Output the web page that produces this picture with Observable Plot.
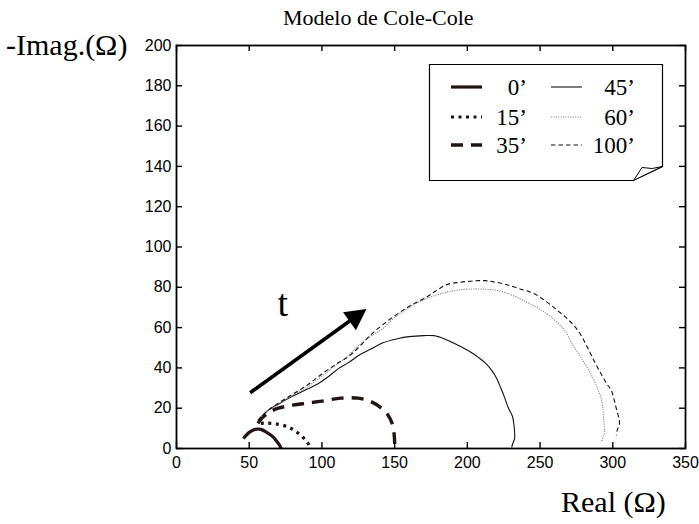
<!DOCTYPE html>
<html>
<head>
<meta charset="utf-8">
<script src="https://cdn.jsdelivr.net/npm/d3@7"></script>
<script src="https://cdn.jsdelivr.net/npm/@observablehq/plot@0.6"></script>
<style>
  html, body { margin: 0; padding: 0; background: #fff; }
  #wrap { position: relative; width: 699px; height: 524px; overflow: hidden; }
  .lbl { position: absolute; font-family: "Liberation Serif", "Times New Roman", serif; color: #000; white-space: nowrap; line-height: 1; }
</style>
</head>
<body>
<div id="wrap"></div>
<script>
// ---- data ----
const xTicks = [0, 50, 100, 150, 200, 250, 300, 350];
const yTicks = [0, 20, 40, 60, 80, 100, 120, 140, 160, 180, 200];

const s0 = [[46,5],[50,8],[54,9.5],[58,9.5],[62,8],[66,6],[69,3.5],[71,1.5],[72,0]];
const s15 = [[58,12.5],[62,12.6],[70,12],[77,10.6],[82,8.5],[87,5.5],[90,3],[91.5,1],[92,0]];
const s35 = [[56,12.5],[58,14.5],[61,16.5],[65,18.5],[70,20],[80,21.5],[90,22.5],[100,23.5],[113,25],[125,25],[133,23.5],[140,20.5],[145,17],[148,13],[149.5,8],[150,3],[150,0]];
const s45 = [[56,14],[60,17],[64,19.5],[70,22],[80,26],[90,29.5],[97,32],[105,36],[112,40],[118,42.5],[126,46.5],[134,49.5],[142,52.5],[152,54.5],[160,55.5],[170,56],[177,56],[184,54.5],[190,52.5],[197,50],[203,47.5],[208,45],[213,42],[217,38.5],[220,35],[223,30],[225.5,25.5],[228,20.5],[231,16],[232,12],[232.5,8],[232.5,5],[231,2],[230.5,0.5]];
const s60 = [[56,14],[60,17],[64,19.5],[70,22],[80,26.5],[90,30.5],[100,36],[110,41.5],[118,46],[125,51],[133,55.5],[141,59],[150,65],[158,69],[166,72.5],[176,75.5],[186,77.6],[195,78.8],[205,79.2],[213,79],[221,78.4],[231,76],[241,72.6],[250,69],[258,65],[267,58.6],[272,52],[278,45.3],[283,39.5],[287,34],[290,29],[292,25],[293,21],[293.5,17],[294,12],[294.3,8],[293,5],[292,3]];
const s100 = [[56,14],[60,17],[64,19.5],[70,22.5],[80,27],[90,31.5],[100,37],[110,42],[118,45.5],[125,50],[133,56],[141,61],[152,66.8],[161,71],[170,74.3],[178,78],[186,81.4],[195,82.5],[205,83.2],[212,83.3],[218,82.7],[225,81.7],[235,79.5],[246,76.8],[255,72.5],[262,68.5],[270,63.5],[276,58.6],[282,51],[287,43.7],[292,37],[296,32],[299,28.8],[302,21],[304.6,12.3],[303,9],[302.4,6.5]];

const seriesNames = ["0'", "15'", "35'", "45'", "60'", "100'"];
const seriesLabels = ["0\u2019", "15\u2019", "35\u2019", "45\u2019", "60\u2019", "100\u2019"];
const arrowData = [{x1: 51, y1: 27.4, x2: 131, y2: 69}];
const tLabel = [{x: 73, y: 66, text: "t"}];

// ---- layout ----
const W = 699, H = 524, mL = 176, mR = 14, mT = 45, mB = 76;
const innerW = W - mL - mR, innerH = H - mT - mB, tickLen = 6;

// ---- styles ----
const styles = {
  "0'":   {stroke: "#221414", strokeWidth: 3.2, strokeDasharray: null},
  "15'":  {stroke: "#221414", strokeWidth: 3.2, strokeDasharray: "3,4.5"},
  "35'":  {stroke: "#221414", strokeWidth: 3.4, strokeDasharray: "12,8"},
  "45'":  {stroke: "#111", strokeWidth: 1.1, strokeDasharray: null},
  "60'":  {stroke: "#8a8a8a", strokeWidth: 1.1, strokeDasharray: "1.2,1.2"},
  "100'": {stroke: "#111", strokeWidth: 1.1, strokeDasharray: "4.5,3"}
};
const seriesData = [s0, s15, s35, s45, s60, s100];
const rows = [];
seriesData.forEach((s, i) => s.forEach(([x, y]) => rows.push({series: seriesNames[i], x, y})));

function arrowMark(index, scales) {
  const g = d3.create("svg:g");
  arrowData.forEach(a => {
    const x1 = scales.x(a.x1), y1 = scales.y(a.y1), x2 = scales.x(a.x2), y2 = scales.y(a.y2);
    const ang = Math.atan2(y2 - y1, x2 - x1);
    const L = 21, Wd = 11;
    const bx = x2 - L * Math.cos(ang), by = y2 - L * Math.sin(ang);
    g.append("line").attr("x1", x1).attr("y1", y1).attr("x2", bx + 2 * Math.cos(ang)).attr("y2", by + 2 * Math.sin(ang))
      .attr("stroke", "#000").attr("stroke-width", 3.6);
    const px = -Math.sin(ang), py = Math.cos(ang);
    g.append("path").attr("d", `M${x2},${y2}L${bx + Wd * px},${by + Wd * py}L${bx - Wd * px},${by - Wd * py}Z`).attr("fill", "#000");
  });
  return g.node();
}

const tickStyle = {stroke: "#000", strokeWidth: 1.4};
const chart = Plot.plot({
  width: W,
  height: H,
  marginLeft: mL,
  marginRight: mR,
  marginTop: mT,
  marginBottom: mB,
  style: {fontFamily: "'Liberation Sans', Arial, sans-serif", fontSize: "16px", color: "#000", background: "#fff"},
  x: {domain: [0, 350]},
  y: {domain: [0, 200]},
  marks: [
    ...seriesNames.map(n => Plot.line(rows.filter(d => d.series === n), {
      x: "x", y: "y", stroke: styles[n].stroke, strokeWidth: styles[n].strokeWidth,
      strokeDasharray: styles[n].strokeDasharray, curve: "catmull-rom", strokeLinecap: "butt"
    })),
    arrowMark,
    Plot.text(tLabel, {x: "x", y: "y", text: "text", fontSize: 38, fontFamily: "'Liberation Serif', serif", textAnchor: "middle", lineAnchor: "bottom"}),
    Plot.axisX({anchor: "bottom", ticks: xTicks, tickSize: 0, tickPadding: 8, label: null, fontSize: 16}),
    Plot.axisY({anchor: "left", ticks: yTicks, tickSize: 0, tickPadding: 5, label: null, fontSize: 16}),
    // inward ticks (MATLAB style) on all four sides
    Plot.tickX(xTicks, {x: d => d, insetTop: innerH - tickLen, ...tickStyle}),
    Plot.tickX(xTicks, {x: d => d, insetBottom: innerH - tickLen, ...tickStyle}),
    Plot.tickY(yTicks, {y: d => d, insetRight: innerW - tickLen, ...tickStyle}),
    Plot.tickY(yTicks, {y: d => d, insetLeft: innerW - tickLen, ...tickStyle}),
    Plot.frame({stroke: "#000", strokeWidth: 1.8})
  ]
});

const wrap = document.getElementById("wrap");
wrap.appendChild(chart);

function addLabel(text, left, top, size) {
  const d = document.createElement("div");
  d.className = "lbl";
  d.textContent = text;
  d.style.left = left + "px";
  d.style.top = top + "px";
  d.style.fontSize = size + "px";
  wrap.appendChild(d);
}
addLabel("Modelo de Cole-Cole", 283, 7, 22);
addLabel("-Imag.(\u03A9)", 6, 30, 30);
addLabel("Real (\u03A9)", 561, 487, 30);

// ---- legend overlay ----
const leg = d3.select(wrap).append("svg")
  .attr("width", W).attr("height", H)
  .style("position", "absolute").style("left", "0px").style("top", "0px").style("pointer-events", "none");
leg.append("path").attr("d", "M429.5,64.5H662.5V166.5L633.5,180.5H429.5Z").attr("fill", "#fff").attr("stroke", "#000").attr("stroke-width", 1.2);
leg.append("path").attr("d", "M633.5,180.5L642,167.5Q652,170 662.5,166.5").attr("fill", "none").attr("stroke", "#000").attr("stroke-width", 1);
const rowY = [87, 117, 145];
seriesNames.forEach((n, i) => {
  const col = Math.floor(i / 3), r = i % 3;
  const lx1 = col === 0 ? 451 : 551, lx2 = col === 0 ? 482 : 582;
  const tx = col === 0 ? 527 : 635;
  const st = styles[n];
  leg.append("line").attr("x1", lx1).attr("x2", lx2).attr("y1", rowY[r]).attr("y2", rowY[r])
    .attr("stroke", st.stroke).attr("stroke-width", st.strokeWidth)
    .attr("stroke-dasharray", st.strokeDasharray);
  leg.append("text").attr("x", tx).attr("y", rowY[r] + 8).attr("text-anchor", "end")
    .attr("font-family", "'Liberation Serif', serif").attr("font-size", 23).text(seriesLabels[i]);
});
</script>
</body>
</html>
